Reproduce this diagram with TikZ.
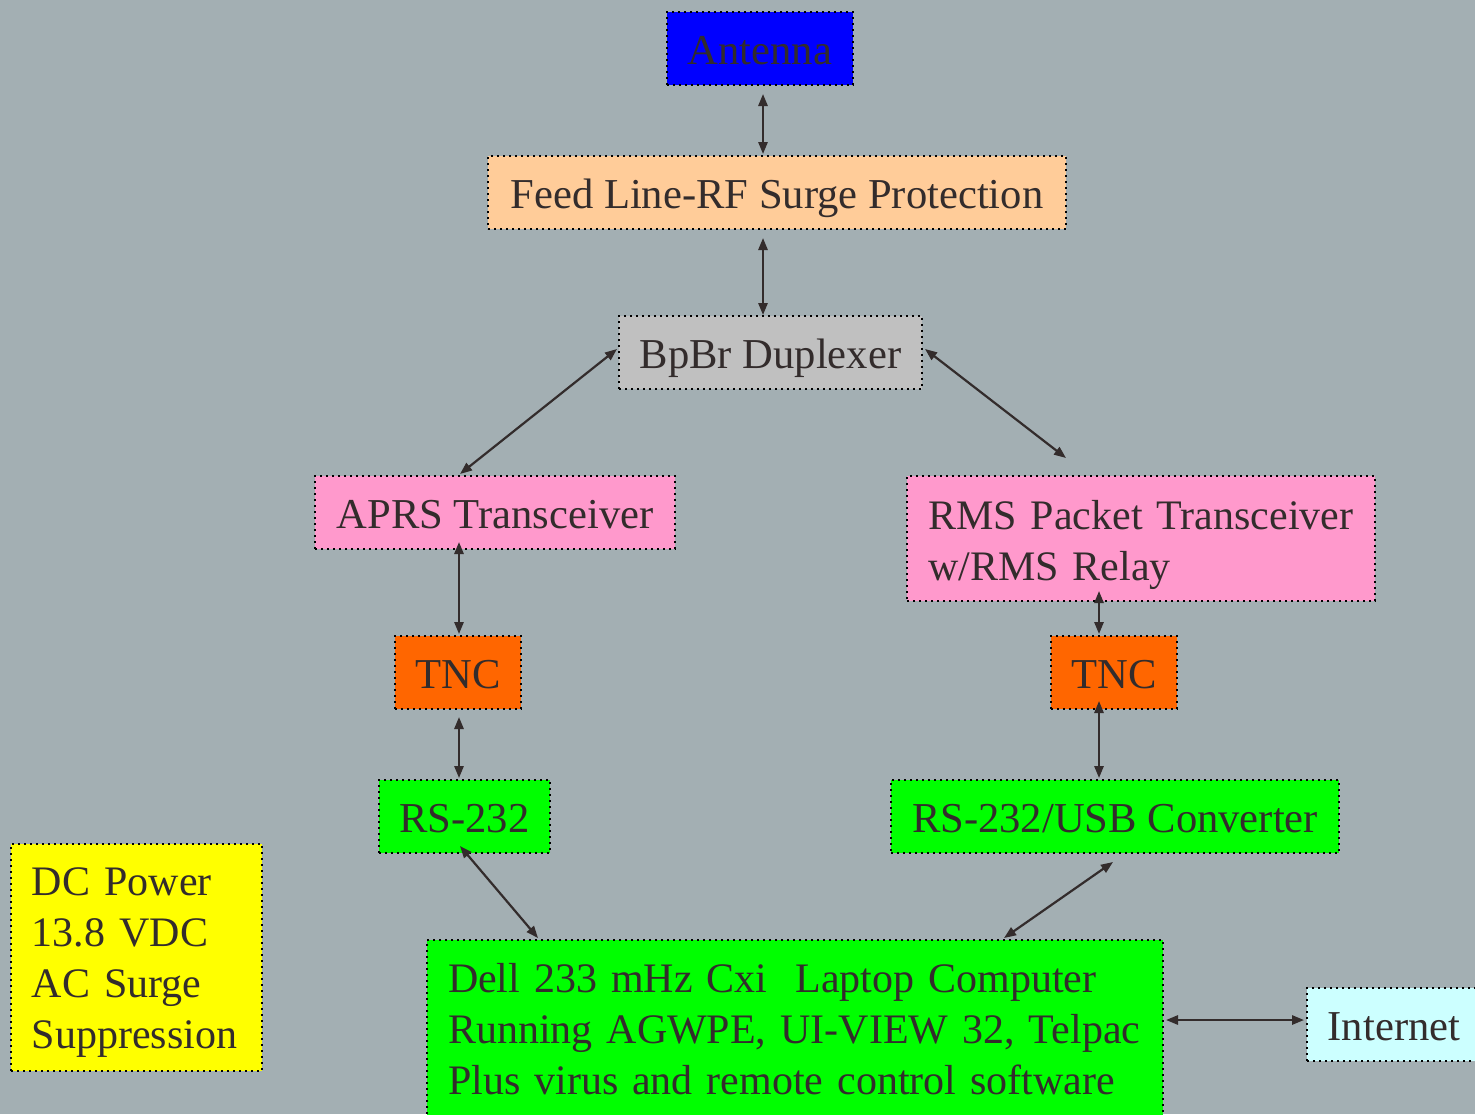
\documentclass[tikz,border=0pt]{standalone}
\usepackage{fontspec}
\setmainfont{Liberation Serif}
\usetikzlibrary{arrows.meta,calc}
\definecolor{bg}{HTML}{A3AFB3}
\definecolor{ink}{HTML}{332C2C}
\definecolor{cblue}{HTML}{0000FF}
\definecolor{cpeach}{HTML}{FFCC99}
\definecolor{cgray}{HTML}{C0C0C0}
\definecolor{cpink}{HTML}{FF99CC}
\definecolor{corange}{HTML}{FF6600}
\definecolor{cgreen}{HTML}{00FF00}
\definecolor{cyellow}{HTML}{FFFF00}
\definecolor{ccyan}{HTML}{CCFFFF}
\tikzset{
  box/.style={draw=black, line width=1pt, dash pattern=on 1pt off 2pt,
    inner sep=0pt, minimum height=36.5pt, text=ink,
    text height=15.5pt, text depth=0pt,
    font=\fontsize{21.3pt}{25.5pt}\selectfont},
  lbox/.style={box, align=left, inner xsep=10.5pt,
    font=\fontsize{21pt}{25.5pt}\selectfont},
  conn/.style={draw=ink, line width=1.1pt, {Triangle[length=6pt,width=4.6pt]}-{Triangle[length=6pt,width=4.6pt]}}
}
\begin{document}
\begin{tikzpicture}[x=0.5pt,y=-0.5pt]
\useasboundingbox (0,0) rectangle (1475,1114);
\fill[bg] (0,0) rectangle (1475,1114);

\node[box, fill=cblue, minimum width=93pt] (ant) at (760,48.5) {Antenna};
\node[box, fill=cpeach, minimum width=289pt] (feed) at (777,192.5) {Feed Line-RF Surge Protection};
\node[box, fill=cgray, minimum width=151.5pt] (dup) at (770.5,352.5) {BpBr Duplexer};
\node[box, fill=cpink, minimum width=180pt] (aprs) at (495,512.5) {APRS Transceiver};
\node[lbox, fill=cpink, text width=213pt, minimum height=62.5pt, text height=16pt, text depth=25.5pt] (rms) at (1141,538.5)
  {\mbox{RMS Packet Transceiver}\\\mbox{w/RMS Relay}};
\node[box, fill=corange, minimum width=63pt] (tncL) at (458,672.5) {TNC};
\node[box, fill=corange, minimum width=63pt] (tncR) at (1114,672.5) {TNC};
\node[box, fill=cgreen, minimum width=85.5pt] (rsL) at (464.5,816.5) {RS-232};
\node[box, fill=cgreen, minimum width=224pt] (rsR) at (1115,816.5) {RS-232/USB Converter};
\node[lbox, fill=cgreen, text width=347pt, minimum height=93pt, text height=14pt, text depth=55pt] (dell) at (795,1033)
  {\mbox{Dell 233 mHz Cxi\ \ Laptop Computer}\\\mbox{Running AGWPE, UI-VIEW 32, Telpac}\\\mbox{Plus virus and remote control software}};
\node[lbox, fill=cyellow, text width=104.5pt, minimum height=113.5pt, text height=14pt, text depth=76.5pt] (dc) at (136.5,957.5)
  {\mbox{DC Power}\\\mbox{13.8 VDC}\\\mbox{AC Surge}\\\mbox{Suppression}};
\node[box, fill=ccyan, minimum width=87pt] (inet) at (1394,1024.5) {Internet};

\draw[conn] ($(ant.south)+(3,8)$) -- ($(feed.north)+(-14,-1)$);
\draw[conn] ($(feed.south)+(-14,8)$) -- ($(dup.north)+(-7.5,0)$);
\draw[conn] ($(dup.west)+(-1,-3.5)$) -- ($(aprs.north)+(-35,-1)$);
\draw[conn] ($(dup.east)+(2,-3.5)$) -- ($(rms.north)+(-75,-17)$);
\draw[conn] ($(aprs.south)+(-36,-8)$) -- ($(tncL.north)+(1,-1)$);
\draw[conn] ($(rms.south)+(-42,-11)$) -- ($(tncR.north)+(-15,-1)$);
\draw[conn] ($(tncL.south)+(1,7)$) -- ($(rsL.north)+(-5.5,-1)$);
\draw[conn] ($(tncR.south)+(-15,-9)$) -- ($(rsR.north)+(-16,-1)$);
\draw[conn] ($(rsL.south)+(-4.5,-8)$) -- ($(dell.north)+(-257,-1)$);
\draw[conn] ($(rsR.south)+(-2,8)$) -- ($(dell.north)+(209,-1)$);
\draw[conn] ($(dell.east)+(2,-13)$) -- ($(inet.west)+(-2,-4.5)$);
\end{tikzpicture}
\end{document}
